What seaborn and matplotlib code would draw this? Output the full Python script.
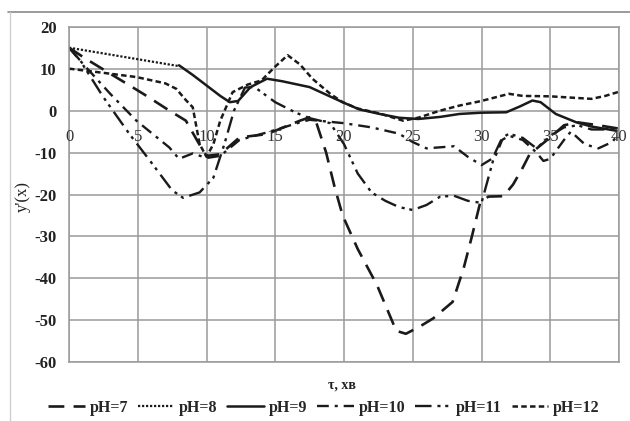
import numpy as np
import pandas as pd
import matplotlib
matplotlib.use("Agg")
import matplotlib.pyplot as plt
from matplotlib.lines import Line2D
import seaborn as sns

# ---- data ----
x_ph7 = [0, 1.2, 3, 5.4, 7.3, 8.5, 9.4, 10, 11, 12.4, 14.4, 16.8, 17.5, 18, 18.7, 19.3, 19.9, 21, 22.4,
         23.8, 24.5, 25.5, 26.5, 27.9, 28.7, 29.3, 29.9, 30.5, 31.6, 32.3, 33, 33.5, 35, 36, 37, 38.5, 40]
y_ph7 = [15, 12.4, 8.8, 4, 0, -2.4, -7.6, -10.8, -10.4, -6.4, -5.6, -2.4, -1.6, -3, -10, -18, -25, -33, -41.6,
         -52.5, -53.2, -51.5, -49.5, -45.6, -37.6, -30, -22, -20.5, -20.4, -17.6, -13.6, -10.4, -6.4, -3.5, -2.8, -3.5, -4.3]

x_ph8 = [0, 8]
y_ph8 = [15, 10.6]

x_ph9 = [8, 9, 10, 11, 11.7, 12.3, 13.2, 14.4, 15.5, 17.5, 19.9, 21.1, 22.6, 24, 25.4, 27, 28.4, 30,
         31.8, 32.8, 33.7, 34.3, 35.4, 36.9, 38, 39.8]
y_ph9 = [10.8, 8.5, 6, 3.5, 2, 2.3, 5.6, 7.6, 7, 5.6, 2, 0.3, -0.8, -1.7, -2, -1.5, -0.8, -0.5,
         -0.4, 1, 2.4, 2, -0.8, -2.8, -3.8, -4.8]

x_ph10 = [0, 1, 3, 4.9, 7.3, 8, 9, 10, 11, 12.4, 14.4, 16.8, 17.5, 20, 22, 24, 25, 26, 28, 29, 30, 31,
          31.5, 32, 33, 34, 34.5, 35, 36, 36.5, 37.5, 38.5, 39.5, 40]
y_ph10 = [15, 11.2, 4, -2.4, -8.8, -11.5, -10.2, -11.3, -10.8, -7, -5.2, -2.8, -2.2, -3, -4, -5.5, -7.5, -9, -8.5,
          -11, -13, -11, -7, -6, -7, -10, -12, -11.5, -7, -5, -8, -9, -7.5, -5.5]

x_ph11 = [0, 0.8, 2.5, 4.4, 5.9, 7.5, 8.3, 9.5, 10.5, 11.3, 12, 12.8, 13.5, 15, 16.5, 17.5, 19, 20, 21, 22,
          23, 24, 25, 26, 27, 28, 29, 30, 30.5, 31, 31.5, 32, 33, 34, 35, 36, 37, 38, 40]
y_ph11 = [15, 12, 3.2, -5.6, -12, -19, -20.8, -19.5, -16, -8, 0, 5.5, 5.6, 2, -0.5, -1.8, -3, -8, -15, -19.5,
          -21.5, -23, -23.7, -22.5, -20.5, -20.3, -21.5, -22, -16, -10, -6.5, -5.5, -6.5, -9, -6, -4, -3.5, -4.5, -4.5]

x_ph12 = [0, 2.5, 4.9, 7, 7.8, 8.5, 9, 9.5, 10, 10.5, 11, 11.9, 13, 14, 15, 15.9, 16.8, 17.7, 19, 19.9, 21,
          22.6, 24.3, 25.4, 27, 28.4, 30, 32, 33, 35, 37, 38, 39, 40]
y_ph12 = [10, 9, 8, 6.5, 5.2, 2.5, 0.8, -8, -11, -8, -2.4, 4.4, 6.2, 7.2, 10.5, 13.2, 11, 7.6, 4, 2, 0.5,
          -0.7, -2.4, -1.7, 0, 1.2, 2.3, 4, 3.5, 3.4, 3, 2.8, 3.5, 4.5]

labels = ["pH=7", "pH=8", "pH=9", "pH=10", "pH=11", "pH=12"]
xs = [x_ph7, x_ph8, x_ph9, x_ph10, x_ph11, x_ph12]
ys = [y_ph7, y_ph8, y_ph9, y_ph10, y_ph11, y_ph12]

x_ticks = [0, 5, 10, 15, 20, 25, 30, 35, 40]
y_ticks = [20, 10, 0, -10, -20, -30, -40, -50, -60]

# ---- styling ----
sns.set_theme(style="white")
plt.rcParams["font.family"] = ["Liberation Serif", "DejaVu Serif"]

dash_map = {
    "pH=7": (6, 3.5),
    "pH=8": (1, 0.8),
    "pH=9": "",
    "pH=10": (5, 2.5, 1.3, 2.5),
    "pH=11": (7, 2.5, 1.3, 2, 1.3, 2.5),
    "pH=12": (2.2, 1.3),
}
lw_map = {"pH=7": 1.9, "pH=8": 1.6, "pH=9": 1.8, "pH=10": 1.7, "pH=11": 1.7, "pH=12": 1.8}

frames = []
for lab, xv, yv in zip(labels, xs, ys):
    frames.append(pd.DataFrame({"x": xv, "y": yv, "pH": lab}))
df = pd.concat(frames, ignore_index=True)

fig = plt.figure(figsize=(6.3, 4.21), dpi=100)
ax = fig.add_axes([69 / 630, 1 - 362.3 / 421, 550 / 630, (362.3 - 26.7) / 421])

line_color = "#1a1a1a"
for lab in labels:
    sub = df[df["pH"] == lab]
    sns.lineplot(data=sub, x="x", y="y", ax=ax, color=line_color, lw=lw_map[lab],
                 estimator=None, sort=False, legend=False)
    ln = ax.lines[-1]
    if dash_map[lab] == "":
        ln.set_linestyle("-")
    else:
        ln.set_dashes(dash_map[lab])

ax.set_xlim(0, 40)
ax.set_ylim(-60, 20)
ax.set_xticks(x_ticks)
ax.set_yticks(y_ticks)
ax.grid(True, color="#9a9a9a", lw=1.1)
ax.set_axisbelow(True)
for s in ax.spines.values():
    s.set_color("#9a9a9a")
    s.set_linewidth(1.1)
ax.tick_params(axis="both", length=0)
ax.set_xticklabels([])
ax.set_yticklabels([str(v) for v in y_ticks], fontsize=12, fontweight="bold", color="#222222")
ax.tick_params(axis="y", pad=9)
ax.set_xlabel("")
ax.set_ylabel("")

for xt in x_ticks:
    ax.text(xt, -6.2, str(xt), ha="center", va="center", fontsize=12, color="#333333")

fig.text(23 / 630, 1 - 196 / 421, "y'(x)", rotation=90, ha="center", va="center",
         fontsize=12, color="#222222")
fig.text(342 / 630, 1 - 385 / 421, "τ, хв", ha="center", va="center", fontsize=10,
         fontweight="bold", color="#222222")

handles = []
for lab in labels:
    h = Line2D([0], [0], color=line_color, lw=lw_map[lab])
    if dash_map[lab] == "":
        h.set_linestyle("-")
    else:
        h.set_dashes(dash_map[lab])
    handles.append(h)
fig.legend(handles, labels, loc="center", bbox_to_anchor=(324 / 630, 1 - 408 / 421), ncol=6,
           frameon=False, handlelength=2.3, handletextpad=0.3, columnspacing=0.6,
           prop={"family": ["Liberation Serif"], "weight": "bold", "size": 11.5})

# outer frame lines (top and left)
fig.add_artist(Line2D([8 / 630, 1.0], [1 - 12 / 421, 1 - 12 / 421], color="#8a8a8a", lw=1.2,
                      transform=fig.transFigure))
fig.add_artist(Line2D([10 / 630, 10 / 630], [0, 1 - 12 / 421], color="#cfcfcf", lw=1.0,
                      transform=fig.transFigure))

fig.savefig("out.png", dpi=100)
